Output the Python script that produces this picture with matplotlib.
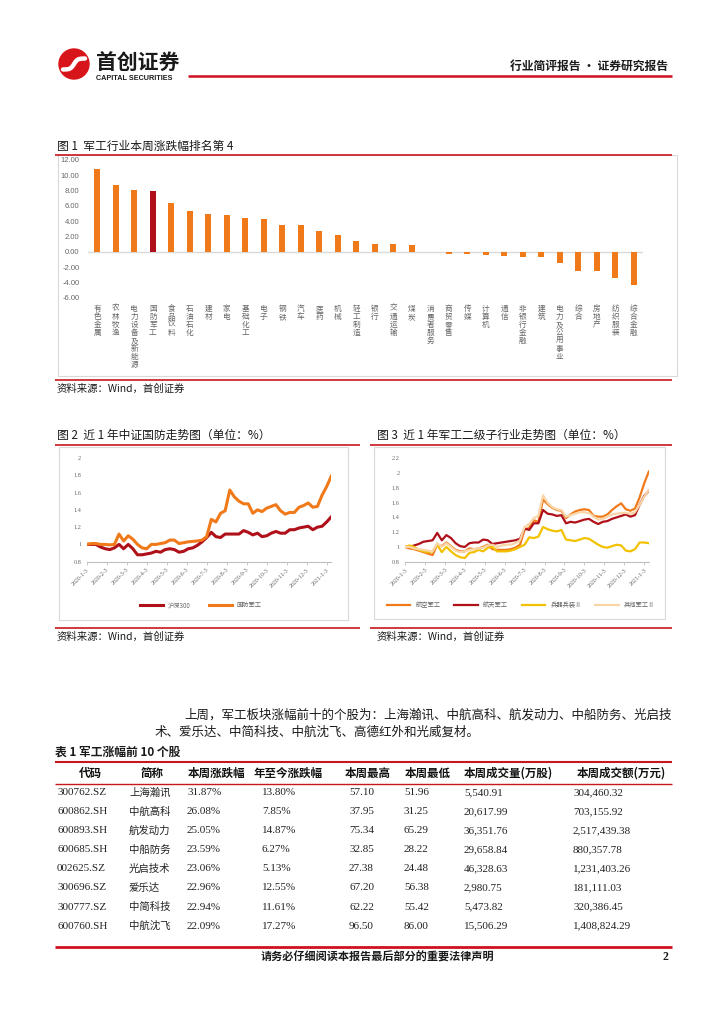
import numpy as np
import matplotlib
matplotlib.use('Agg')
import matplotlib.pyplot as plt
from matplotlib.patches import Rectangle, Circle
from matplotlib.ticker import FuncFormatter

plt.rcParams['font.family'] = ['Noto Sans CJK SC', 'DejaVu Sans']
plt.rcParams['axes.unicode_minus'] = False

W, H = 724, 1024

# ---------------- data ----------------
industries = ['有色金属', '农林牧渔', '电力设备及新能源', '国防军工', '食品饮料', '石油石化',
              '建材', '家电', '基础化工', '电子', '钢铁', '汽车', '医药', '机械', '轻工制造',
              '银行', '交通运输', '煤炭', '消费者服务', '商贸零售', '传媒', '计算机', '通信',
              '非银行金融', '建筑', '电力及公用事业', '综合', '房地产', '纺织服装', '综合金融']
weekly_change = [10.83, 8.70, 8.13, 8.00, 6.35, 5.39, 4.91, 4.78, 4.43, 4.26, 3.52, 3.50,
                 2.70, 2.26, 1.39, 1.00, 0.98, 0.93, -0.05, -0.20, -0.25, -0.35, -0.48,
                 -0.60, -0.65, -1.39, -2.43, -2.52, -3.43, -4.26]
highlight = '国防军工'

date_labels = ['2020-1-3', '2020-2-3', '2020-3-3', '2020-4-3', '2020-5-3', '2020-6-3',
               '2020-7-3', '2020-8-3', '2020-9-3', '2020-10-3', '2020-11-3', '2020-12-3',
               '2021-1-3']

hs300 = [1.00, 1.00, 1.00, 0.97, 0.95, 0.94, 0.96, 1.00, 0.95, 1.00, 0.95, 0.88, 0.88, 0.89,
         0.90, 0.92, 0.91, 0.94, 0.95, 0.94, 0.91, 0.92, 0.95, 0.96, 0.99, 1.03, 1.08, 1.14,
         1.09, 1.08, 1.12, 1.12, 1.12, 1.12, 1.16, 1.14, 1.11, 1.13, 1.09, 1.10, 1.13, 1.15,
         1.13, 1.13, 1.17, 1.17, 1.19, 1.20, 1.21, 1.17, 1.20, 1.21, 1.26, 1.32]
defense = [1.00, 1.01, 1.01, 1.00, 1.00, 0.995, 1.00, 1.12, 1.04, 1.10, 1.06, 1.00, 0.96, 0.95,
           1.00, 1.00, 1.01, 1.02, 1.05, 1.05, 1.01, 1.02, 1.03, 1.035, 1.04, 1.05, 1.09, 1.29,
           1.26, 1.36, 1.39, 1.63, 1.55, 1.50, 1.47, 1.47, 1.36, 1.40, 1.38, 1.42, 1.44, 1.46,
           1.39, 1.35, 1.37, 1.37, 1.43, 1.45, 1.48, 1.43, 1.44, 1.57, 1.67, 1.79]

aviation = [1.00, 0.98, 0.97, 0.95, 0.93, 0.91, 0.89, 1.03, 1.01, 1.06, 1.01, 0.96, 0.94, 0.94,
            0.98, 0.97, 0.98, 1.00, 1.03, 0.97, 0.96, 0.96, 0.96, 0.97, 0.99, 1.03, 1.23, 1.26,
            1.36, 1.34, 1.64, 1.58, 1.53, 1.50, 1.49, 1.39, 1.44, 1.48, 1.50, 1.51, 1.50, 1.42,
            1.41, 1.41, 1.44, 1.50, 1.55, 1.59, 1.51, 1.49, 1.52, 1.67, 1.86, 2.02]
aerospace = [1.00, 1.00, 1.02, 1.04, 1.07, 1.08, 1.09, 1.19, 1.09, 1.16, 1.12, 1.05, 1.01, 1.00,
             1.05, 1.06, 1.06, 1.10, 1.09, 1.04, 1.05, 1.06, 1.07, 1.08, 1.09, 1.11, 1.25, 1.23,
             1.32, 1.32, 1.50, 1.45, 1.44, 1.42, 1.43, 1.32, 1.34, 1.33, 1.35, 1.37, 1.38, 1.34,
             1.31, 1.34, 1.35, 1.38, 1.40, 1.42, 1.44, 1.41, 1.43, 1.57, 1.69, 1.76]
ordnance = [1.00, 1.02, 1.00, 0.96, 0.94, 0.93, 0.94, 1.03, 0.93, 1.00, 0.94, 0.89, 0.86, 0.85,
            0.92, 0.93, 0.96, 0.94, 0.99, 1.00, 0.94, 0.94, 0.94, 0.95, 0.97, 1.00, 1.03, 1.13,
            1.12, 1.14, 1.27, 1.24, 1.22, 1.21, 1.23, 1.10, 1.09, 1.08, 1.10, 1.12, 1.11, 1.07,
            1.03, 1.00, 0.99, 1.01, 1.03, 1.02, 0.95, 0.94, 0.97, 1.06, 1.06, 1.05]
other_mil = [1.00, 1.00, 0.98, 0.97, 0.96, 0.95, 0.94, 1.05, 1.00, 1.05, 1.00, 0.95, 0.93, 0.94,
             0.96, 0.97, 0.98, 0.99, 1.02, 1.03, 1.00, 1.02, 1.03, 1.03, 1.05, 1.09, 1.27, 1.31,
             1.39, 1.42, 1.70, 1.60, 1.54, 1.51, 1.50, 1.41, 1.43, 1.45, 1.47, 1.47, 1.46, 1.41,
             1.37, 1.38, 1.41, 1.44, 1.45, 1.46, 1.46, 1.45, 1.47, 1.57, 1.68, 1.77]

table_headers = ['代码', '简称', '本周涨跌幅', '年至今涨跌幅', '本周最高', '本周最低',
                 '本周成交量(万股)', '本周成交额(万元)']
codes = ['300762.SZ', '600862.SH', '600893.SH', '600685.SH', '002625.SZ', '300696.SZ',
         '300777.SZ', '600760.SH']
names = ['上海瀚讯', '中航高科', '航发动力', '中船防务', '光启技术', '爱乐达', '中简科技', '中航沈飞']
week_pct = [31.87, 26.08, 25.05, 23.59, 23.06, 22.96, 22.94, 22.09]
ytd_pct = [13.80, 7.85, 14.87, 6.27, 5.13, 12.55, 11.61, 17.27]
week_high = [57.10, 37.95, 75.34, 32.85, 27.38, 67.20, 62.22, 96.50]
week_low = [51.96, 31.25, 65.29, 28.22, 24.48, 56.38, 55.42, 86.00]
volume = [5540.91, 20617.99, 36351.76, 29658.84, 46328.63, 2980.75, 5473.82, 15506.29]
amount = [304460.32, 703155.92, 2517439.38, 880357.78, 1231403.26, 181111.03, 320386.45,
          1408824.29]

para_lines = ['上周，军工板块涨幅前十的个股为：上海瀚讯、中航高科、航发动力、中船防务、光启技',
              '术、爱乐达、中简科技、中航沈飞、高德红外和光威复材。']

# ---------------- styles ----------------
RED = '#C8161D'
ORANGE = '#F07A1A'
DARKRED = '#B0101A'
GOLD = '#F2C200'
PEACH = '#F9D5A7'
GRAY = '#666666'
BOX = '#D9D9D9'

fig = plt.figure(figsize=(W / 100, H / 100), dpi=100)
ov = fig.add_axes([0, 0, 1, 1])
ov.set_xlim(0, W)
ov.set_ylim(H, 0)
ov.axis('off')


def px_axes(l, t, r, b):
    ax = fig.add_axes([l / W, 1 - b / H, (r - l) / W, (b - t) / H])
    ax.set_facecolor('none')
    return ax


def hline(x0, x1, y, lw=1.2, color=RED):
    ov.plot([x0, x1], [y, y], color=color, lw=lw, solid_capstyle='butt')


# ---------------- header ----------------
ov.add_patch(Circle((74, 64), 15, color='#D7141A'))
sx = np.linspace(63, 85, 50)
ov.plot(sx, 64 - 5.5 * np.tanh((sx - 74) / 3.5), color='white', lw=3.2,
        solid_capstyle='round')
ov.text(96, 63, '首创证券', fontsize=15, fontweight='bold', color='#1a1a1a', va='center', ha='left')
ov.text(96, 78, 'CAPITAL SECURITIES', fontsize=5.2, fontweight='bold', color='#1a1a1a',
        va='center', ha='left', family=['Liberation Sans', 'DejaVu Sans'])
hline(188, 672, 75.5, lw=1.8, color='#D01020')
ov.text(668, 66, '行业简评报告 · 证券研究报告', fontsize=8.5, fontweight='bold', color='#1a1a1a',
        va='center', ha='right')

# ---------------- figure 1 ----------------
ov.text(57, 146, '图 1  军工行业本周涨跌幅排名第 4', fontsize=8.5, color='#1a1a1a', va='center')
ov.add_patch(Rectangle((57.5, 155), 619.5, 221, fill=False, ec=BOX, lw=0.8))
hline(55, 672, 154.5)
hline(55, 672, 380)
ov.text(57, 389, '资料来源：Wind，首创证券', fontsize=7.5, style='italic', color='#1a1a1a',
        va='center')

ax1 = px_axes(88, 160, 643, 298)
xi = np.arange(len(industries))
bar_colors = [DARKRED if n == highlight else ORANGE for n in industries]
ax1.bar(xi, weekly_change, width=0.33, color=bar_colors, zorder=2)
ax1.set_xlim(-0.5, len(industries) - 0.5)
ax1.set_ylim(-6, 12)
ax1.set_yticks(np.arange(-6, 12.1, 2))
ax1.yaxis.set_major_formatter(FuncFormatter(lambda v, p: f'{v:.2f}'))
ax1.axhline(0, color=BOX, lw=1, zorder=1)
for s in ax1.spines.values():
    s.set_visible(False)
ax1.tick_params(axis='y', length=0, labelsize=5.5, labelcolor=GRAY, pad=6)
for lab in ax1.get_yticklabels():
    lab.set_fontfamily(['Liberation Sans', 'DejaVu Sans'])
ax1.set_xticks(xi, ['\n'.join(n) for n in industries])
ax1.tick_params(axis='x', length=0, pad=5)
for lab in ax1.get_xticklabels():
    lab.set_fontsize(5.5)
    lab.set_color(GRAY)
    lab.set_linespacing(1.0)
    lab.set_verticalalignment('top')

# ---------------- figure 2 & 3 frames ----------------
ov.text(57, 435, '图 2  近 1 年中证国防走势图（单位：%）', fontsize=8.5, color='#1a1a1a', va='center')
ov.text(377, 435, '图 3  近 1 年军工二级子行业走势图（单位：%）', fontsize=8.5, color='#1a1a1a',
        va='center')
hline(55, 360, 445)
hline(370, 672, 445)
ov.add_patch(Rectangle((59, 447), 289, 173, fill=False, ec=BOX, lw=0.8))
ov.add_patch(Rectangle((374, 447), 291, 172, fill=False, ec=BOX, lw=0.8))
hline(55, 360, 628)
hline(370, 672, 628)
ov.text(57, 637, '资料来源：Wind，首创证券', fontsize=7.5, style='italic', color='#1a1a1a', va='center')
ov.text(377, 637, '资料来源：Wind，首创证券', fontsize=7.5, style='italic', color='#1a1a1a',
        va='center')

tick_pos = np.arange(len(date_labels)) * 52 / 12


def style_line_axes(ax, ymax):
    ax.set_xlim(0, 53)
    ax.set_ylim(0.8, ymax)
    yt = np.round(np.arange(0.8, ymax + 0.01, 0.2), 1)
    ax.set_yticks(yt, [f'{v:g}' for v in yt])
    ax.set_xticks(tick_pos, date_labels, rotation=45, ha='right', rotation_mode='anchor')
    for s in ['top', 'right', 'left']:
        ax.spines[s].set_visible(False)
    ax.spines['bottom'].set_color('#BFBFBF')
    ax.spines['bottom'].set_linewidth(0.8)
    ax.tick_params(axis='y', length=0, labelsize=4.5, labelcolor=GRAY, pad=4)
    ax.tick_params(axis='x', length=2, width=0.6, color='#BFBFBF', labelsize=4.3,
                   labelcolor=GRAY, pad=2)
    for lab in ax.get_xticklabels() + ax.get_yticklabels():
        lab.set_fontfamily(['Liberation Serif', 'DejaVu Serif'])


ax2 = px_axes(86.7, 458, 331.3, 561.7)
wk = np.arange(len(hs300))
ax2.plot(wk, hs300, color=DARKRED, lw=2.2, label='沪深300', solid_joinstyle='round')
ax2.plot(wk, defense, color=ORANGE, lw=2.2, label='国防军工', solid_joinstyle='round')
style_line_axes(ax2, 2.0)
leg2 = ax2.legend(loc='center', bbox_to_anchor=(201 / W, 1 - 605 / H), bbox_transform=fig.transFigure,
                  ncol=2, frameon=False, fontsize=4.5, handlelength=3.6, columnspacing=3.0,
                  handletextpad=0.8)
for t in leg2.get_texts():
    t.set_color(GRAY)

ax3 = px_axes(405, 458.3, 648.8, 561.7)
wk3 = np.arange(len(aviation))
ax3.plot(wk3, aviation, color=ORANGE, lw=1.6, label='航空军工', solid_joinstyle='round')
ax3.plot(wk3, aerospace, color=DARKRED, lw=1.6, label='航天军工', solid_joinstyle='round')
ax3.plot(wk3, ordnance, color=GOLD, lw=1.6, label='兵器兵装Ⅱ', solid_joinstyle='round')
ax3.plot(wk3, other_mil, color=PEACH, lw=1.6, label='其他军工Ⅱ', solid_joinstyle='round')
style_line_axes(ax3, 2.2)
leg3 = ax3.legend(loc='center', bbox_to_anchor=(521 / W, 1 - 605 / H), bbox_transform=fig.transFigure,
                  ncol=4, frameon=False, fontsize=4.5, handlelength=3.8, columnspacing=2.2,
                  handletextpad=0.8)
for t in leg3.get_texts():
    t.set_color(GRAY)

# ---------------- paragraph ----------------
ov.text(184, 715, para_lines[0], fontsize=9.0, color='#1a1a1a', va='center')
ov.text(155, 732, para_lines[1], fontsize=9.0, color='#1a1a1a', va='center')

# ---------------- table ----------------
ov.text(55, 752, '表 1 军工涨幅前 10 个股', fontsize=8.5, fontweight='bold', color='#1a1a1a',
        va='center')
hline(55, 672, 762, lw=1.5)
hline(55, 672, 784, lw=1.0)
head_cx = [90, 152, 216, 288, 368, 428, 508, 621]
col_x = [57, 129, 187, 262, 349, 404, 464, 573]
for hx, htxt in zip(head_cx, table_headers):
    ov.text(hx, 773, htxt, fontsize=8.3, fontweight='bold', color='#111111', ha='center', va='center')

row_y0, row_dy = 792.5, 19.1
serif = ['Liberation Serif', 'Noto Sans CJK SC']
for i in range(len(codes)):
    y = row_y0 + i * row_dy
    cells = [codes[i], names[i], f'{week_pct[i]:.2f}%', f'{ytd_pct[i]:.2f}%', f'{week_high[i]:.2f}',
             f'{week_low[i]:.2f}', f'{volume[i]:,.2f}', f'{amount[i]:,.2f}']
    for j, (cx, txt) in enumerate(zip(col_x, cells)):
        if j == 1:
            ov.text(cx, y, txt, fontsize=7.5, color='#222222', va='center', ha='left')
        else:
            ov.text(cx, y, txt, fontsize=8.0, color='#222222', va='center', ha='left', family=serif)

# ---------------- footer ----------------
hline(55, 672, 947, lw=2.0, color='#D01020')
ov.text(377, 957, '请务必仔细阅读本报告最后部分的重要法律声明', fontsize=8, fontweight='bold',
        color='#1a1a1a', ha='center', va='center')
ov.text(668, 957, '2', fontsize=8.5, fontweight='bold', color='#1a1a1a', ha='right', va='center',
        family=['Liberation Serif', 'DejaVu Serif'])

fig.savefig('out.png', dpi=100)
